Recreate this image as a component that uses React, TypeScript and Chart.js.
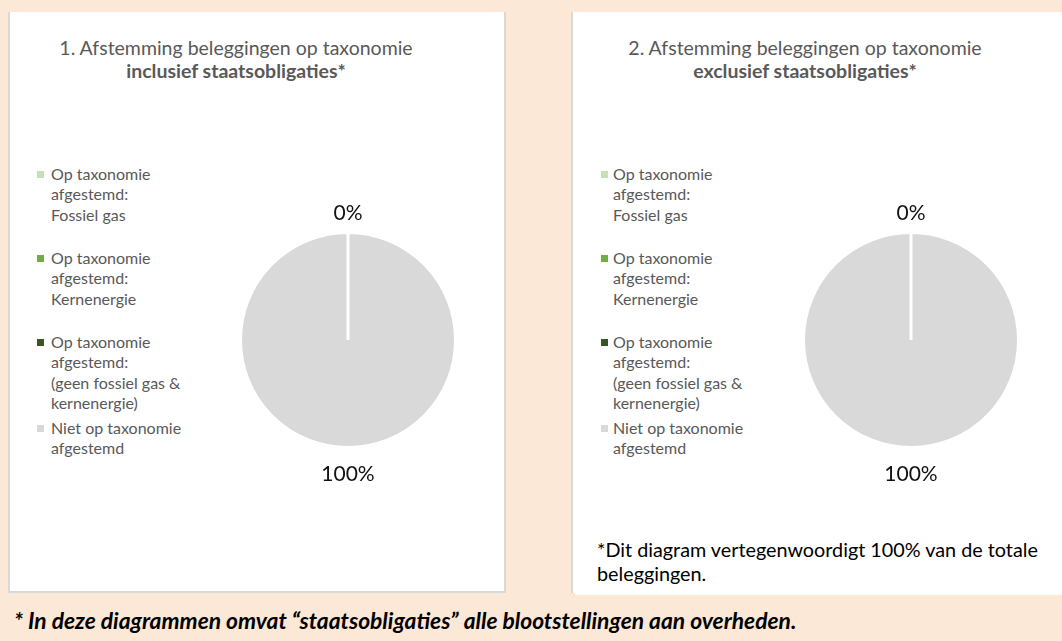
import React, { useEffect, useRef } from "react";
import { Chart, registerables } from "chart.js";

Chart.register(...registerables);

// ---- data ----
const categories = [
  "Op taxonomie afgestemd: Fossiel gas",
  "Op taxonomie afgestemd: Kernenergie",
  "Op taxonomie afgestemd: (geen fossiel gas & kernenergie)",
  "Niet op taxonomie afgestemd",
];
const legendLines = [
  ["Op taxonomie", "afgestemd:", "Fossiel gas"],
  ["Op taxonomie", "afgestemd:", "Kernenergie"],
  ["Op taxonomie", "afgestemd:", "(geen fossiel gas &", "kernenergie)"],
  ["Niet op taxonomie", "afgestemd"],
];
const valuesInclusief = [0, 0, 0, 100];
const valuesExclusief = [0, 0, 0, 100];
const sliceColors = ["#C5E0B4", "#70AD47", "#375623", "#D9D9D9"];

const titleLine1 = [
  "1. Afstemming beleggingen op taxonomie",
  "2. Afstemming beleggingen op taxonomie",
];
const titleLine2 = ["inclusief staatsobligaties*", "exclusief staatsobligaties*"];
const noteLines = ["*Dit diagram vertegenwoordigt 100% van de totale", "beleggingen."];
const footerText =
  "* In deze diagrammen omvat \u201cstaatsobligaties\u201d alle blootstellingen aan overheden.";

// ---- layout constants ----
const FONT = "Lato, 'Open Sans', sans-serif";
const legendItemTops = [174, 258, 342, 428]; // centre of first line
const LINE_H = 20.5;

const outLabelPlugin = {
  id: "outLabels",
  afterDatasetsDraw(chart: any) {
    const ctx = chart.ctx;
    const meta = chart.getDatasetMeta(0);
    const data = chart.data.datasets[0].data;
    const drawn = new Set<string>();
    ctx.save();
    ctx.font = `21px ${FONT}`;
    ctx.fillStyle = "#111111";
    ctx.textAlign = "center";
    ctx.textBaseline = "middle";
    meta.data.forEach((arc: any, i: number) => {
      const p = arc.getProps(["x", "y", "startAngle", "endAngle", "outerRadius"], true);
      const mid = (p.startAngle + p.endAngle) / 2;
      const d = p.outerRadius + 19 + 8 * Math.max(0, Math.sin(mid));
      const lx = p.x + Math.cos(mid) * d;
      const ly = p.y + Math.sin(mid) * d;
      const key = Math.round(lx) + "," + Math.round(ly);
      if (drawn.has(key)) return;
      drawn.add(key);
      ctx.fillText(`${data[i]}%`, lx, ly);
    });
    ctx.restore();
  },
};

function PieCanvas({ values, left, top }: { values: number[]; left: number; top: number }) {
  const ref = useRef<HTMLCanvasElement | null>(null);
  useEffect(() => {
    if (!ref.current) return;
    const chart = new Chart(ref.current, {
      type: "pie",
      data: {
        labels: categories,
        datasets: [
          {
            data: values,
            backgroundColor: sliceColors,
            borderColor: "#FFFFFF",
            borderWidth: 3,
            radius: 107.5,
            hoverOffset: 0,
          } as any,
        ],
      },
      options: {
        responsive: false,
        animation: false,
        devicePixelRatio: 1,
        layout: { padding: 0 },
        plugins: {
          legend: { display: false },
          tooltip: { enabled: false },
        },
        events: [],
      },
      plugins: [outLabelPlugin],
    });
    return () => chart.destroy();
  }, [values]);
  return (
    <canvas
      ref={ref}
      width={280}
      height={340}
      style={{ position: "absolute", left, top, width: 280, height: 340 }}
    />
  );
}

function Legend({ markerX, textX }: { markerX: number; textX: number }) {
  return (
    <>
      {legendLines.map((lines, i) => (
        <React.Fragment key={i}>
          <div
            style={{
              position: "absolute",
              left: markerX,
              top: legendItemTops[i] - 3,
              width: 7,
              height: 7,
              background: sliceColors[i],
            }}
          />
          <div
            style={{
              position: "absolute",
              left: textX,
              top: legendItemTops[i] - LINE_H / 2,
              font: `16px ${FONT}`,
              lineHeight: `${LINE_H}px`,
              color: "#595959",
              whiteSpace: "nowrap",
            }}
          >
            {lines.map((l, j) => (
              <div key={j}>{l}</div>
            ))}
          </div>
        </React.Fragment>
      ))}
    </>
  );
}

function Title({ cx, idx }: { cx: number; idx: number }) {
  return (
    <div
      style={{
        position: "absolute",
        left: cx - 250,
        width: 500,
        top: 36,
        textAlign: "center",
        color: "#595959",
        font: `19.5px ${FONT}`,
        lineHeight: "23px",
      }}
    >
      <div>{titleLine1[idx]}</div>
      <div style={{ fontWeight: 700 }}>{titleLine2[idx]}</div>
    </div>
  );
}

export default function App() {
  return (
    <div
      style={{
        position: "absolute",
        left: 0,
        top: 0,
        width: 1062,
        height: 641,
        overflow: "hidden",
        background: "#FBE8D7",
        fontFamily: FONT,
      }}
    >
      {/* left panel */}
      <div
        style={{
          position: "absolute",
          left: 8,
          top: 12,
          width: 494,
          height: 579,
          background: "#FFFFFF",
          borderLeft: "2px solid #D9D9D9",
          borderRight: "2px solid #D9D9D9",
          borderBottom: "2px solid #D9D9D9",
        }}
      />
      {/* right panel */}
      <div
        style={{
          position: "absolute",
          left: 571,
          top: 12,
          width: 500,
          height: 581,
          background: "#FFFFFF",
          borderLeft: "2px solid #D9D9D9",
        }}
      />
      <div
        style={{
          position: "absolute",
          left: 575,
          top: 590,
          width: 500,
          height: 5,
          background: "#FFFFFF",
        }}
      />

      <Title cx={236} idx={0} />
      <Title cx={805} idx={1} />

      <Legend markerX={37} textX={51} />
      <Legend markerX={601} textX={613} />

      <PieCanvas values={valuesInclusief} left={348 - 140} top={340 - 170} />
      <PieCanvas values={valuesExclusief} left={911 - 140} top={340 - 170} />

      <div
        style={{
          position: "absolute",
          left: 597,
          top: 538,
          font: `19.8px ${FONT}`,
          lineHeight: "23.5px",
          color: "#000000",
          whiteSpace: "nowrap",
        }}
      >
        {noteLines.map((l, i) => (
          <div key={i}>{l}</div>
        ))}
      </div>

      <div
        style={{
          position: "absolute",
          left: 14,
          top: 607,
          font: `italic 700 22.8px ${FONT}`,
          lineHeight: "27px",
          color: "#000000",
          whiteSpace: "nowrap",
        }}
      >
        {footerText}
      </div>
    </div>
  );
}
